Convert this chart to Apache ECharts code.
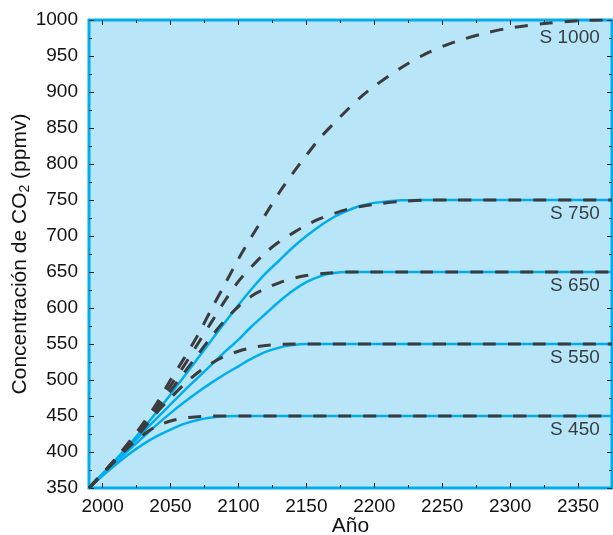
<!DOCTYPE html>
<html>
<head>
<meta charset="utf-8">
<script src="https://cdn.jsdelivr.net/npm/echarts@6/dist/echarts.min.js"></script>
<style>
html, body { margin: 0; padding: 0; background: #ffffff; }
#chart { width: 613px; height: 535px; }
</style>
</head>
<body>
<div id="chart"></div>
<script>
// Years at which each concentration profile is sampled
const years = [1990, 2000, 2010, 2020, 2030, 2040, 2050, 2060, 2070, 2080, 2090, 2100, 2110, 2120, 2130, 2140, 2150, 2160, 2170, 2180, 2190, 2200, 2220, 2240, 2260, 2280, 2300, 2325, 2350, 2375];

// Stabilisation profiles "S" (solid lines), ppmv
const s450 = [350, 367, 383, 398, 411, 422, 431, 439, 444.5, 448, 449.7, 450, 450, 450, 450, 450, 450, 450, 450, 450, 450, 450, 450, 450, 450, 450, 450, 450, 450, 450];
const s550 = [350, 368, 386, 404, 421, 438, 454, 469, 483, 496, 508, 519, 530, 539, 545, 548.5, 550, 550, 550, 550, 550, 550, 550, 550, 550, 550, 550, 550, 550, 550];
const s650 = [350, 369, 388, 408, 428, 447, 466, 485, 503, 521, 539, 556, 575, 592, 609, 624, 636, 644, 648.5, 650, 650, 650, 650, 650, 650, 650, 650, 650, 650, 650];
const s750 = [350, 370, 390, 411, 433, 456, 480, 505, 530, 555, 580, 604, 627, 648, 666, 684, 700, 714, 726, 735, 742, 746, 749.5, 750, 750, 750, 750, 750, 750, 750];

// Delayed-departure profiles (dashed lines), ppmv
const d450 = [350, 370, 389, 408, 424, 436, 443, 447, 449, 450, 450, 450, 450, 450, 450, 450, 450, 450, 450, 450, 450, 450, 450, 450, 450, 450, 450, 450, 450, 450];
const d550 = [350, 370, 390, 411, 432, 455, 475, 494, 510, 523, 533, 540, 545, 548, 549.5, 550, 550, 550, 550, 550, 550, 550, 550, 550, 550, 550, 550, 550, 550, 550];
const d650 = [350, 370, 391, 413, 436, 460, 485, 510, 535, 560, 583, 602, 617, 627, 635, 641, 645, 647.5, 649, 650, 650, 650, 650, 650, 650, 650, 650, 650, 650, 650];
const d750 = [350, 370, 391, 414, 438, 464, 492, 520, 550, 580, 610, 637, 658, 677, 692, 704, 715, 724, 731, 737, 741, 744, 748, 750, 750, 750, 750, 750, 750, 750];
const d1000 = [350, 370, 392, 415, 440, 468, 500, 530, 562, 598, 633, 668, 700, 730, 760, 787, 812, 836, 856, 875, 893, 908, 934, 955, 970, 981, 989, 995, 999, 1000];

// Curve labels and the level each one names
const labelNames = ['S 1000', 'S 750', 'S 650', 'S 550', 'S 450'];
const labelLevels = [1000, 750, 650, 550, 450];
const labelYear = 2366;

// Axis ticks
const majorYears = [2000, 2050, 2100, 2150, 2200, 2250, 2300, 2350];
const minorYears = [2025, 2075, 2125, 2175, 2225, 2275, 2325];

const FONT = 'Liberation Sans';
const TEXT = '#111111';
const BLUE = '#00aeef';
const DASH = '#3c3c3c';

const pairs = (vals) => years.map((y, i) => [y, vals[i]]);
const plain = (v) => String(v);

function xAxisDef(pos, ticks, len, labels) {
  return {
    type: 'value', position: pos, min: 1990, max: 2375,
    axisLine: { show: false },
    splitLine: { show: false },
    axisTick: { show: true, inside: true, length: len, customValues: ticks, lineStyle: { color: '#222', width: 1 } },
    axisLabel: labels
      ? { show: true, customValues: ticks, margin: 9, color: TEXT, fontFamily: FONT, fontSize: 19, formatter: plain }
      : { show: false, customValues: ticks }
  };
}

const solid = (name, vals) => ({
  name, type: 'line', data: pairs(vals), xAxisIndex: 0, yAxisIndex: 0,
  showSymbol: false, smooth: 0.3,
  lineStyle: { color: BLUE, width: 2.5, join: 'round' }, z: 2
});
const dashed = (name, vals) => ({
  name, type: 'line', data: pairs(vals), xAxisIndex: 0, yAxisIndex: 0,
  showSymbol: false, smooth: 0.3,
  lineStyle: { color: DASH, width: 3, type: [13, 12], join: 'round' }, z: 3
});

const option = {
  animation: false,
  grid: {
    left: 89, right: 1, top: 20, bottom: 47,
    containLabel: false, outerBoundsMode: 'none',
    show: true, backgroundColor: '#b9e5f9', borderColor: BLUE, borderWidth: 3
  },
  xAxis: [
    Object.assign(xAxisDef('bottom', majorYears, 5, true), {
      name: 'Año', nameLocation: 'middle', nameGap: 28, nameMoveOverlap: false,
      nameTextStyle: { color: TEXT, fontFamily: FONT, fontSize: 21 }
    }),
    xAxisDef('bottom', minorYears, 3, false),
    xAxisDef('top', majorYears, 5, false),
    xAxisDef('top', minorYears, 3, false)
  ],
  yAxis: [
    {
      type: 'value', position: 'left', min: 350, max: 1000, interval: 50,
      axisLine: { show: false }, splitLine: { show: false },
      axisTick: { show: true, inside: true, length: 5, lineStyle: { color: '#222', width: 1 } },
      minorTick: { show: true, splitNumber: 2, length: 3, lineStyle: { color: '#222', width: 1 } },
      axisLabel: { margin: 11, color: TEXT, fontFamily: FONT, fontSize: 19, formatter: plain },
      name: 'Concentración de CO{sub|2} (ppmv)', nameLocation: 'middle', nameGap: 57, nameMoveOverlap: false,
      nameTextStyle: {
        color: TEXT, fontFamily: FONT, fontSize: 21,
        rich: { sub: { fontFamily: FONT, fontSize: 14, color: TEXT, verticalAlign: 'bottom', padding: [9, 0, 0, 0] } }
      }
    },
    {
      type: 'value', position: 'right', min: 350, max: 1000, interval: 50,
      axisLine: { show: false }, splitLine: { show: false },
      axisTick: { show: true, inside: true, length: 5, lineStyle: { color: '#222', width: 1 } },
      minorTick: { show: true, splitNumber: 2, length: 3, lineStyle: { color: '#222', width: 1 } },
      axisLabel: { show: false }
    }
  ],
  series: [
    solid('S450', s450), solid('S550', s550), solid('S650', s650), solid('S750', s750),
    dashed('D450', d450), dashed('D550', d550), dashed('D650', d650), dashed('D750', d750), dashed('D1000', d1000),
    {
      name: 'labels', type: 'scatter', xAxisIndex: 0, yAxisIndex: 0, symbolSize: 0, z: 4,
      data: labelNames.map((n, i) => ({ name: n, value: [labelYear, labelLevels[i]] })),
      label: {
        show: true, position: 'inside', align: 'right', verticalAlign: 'middle',
        formatter: (p) => p.name, color: TEXT, fontFamily: FONT, fontSize: 19
      },
      labelLayout: (p) => ({ dy: labelLevels[p.dataIndex] >= 1000 ? 18 : 14 })
    }
  ]
};

const chart = echarts.init(document.getElementById('chart'), null, { renderer: 'canvas' });
chart.setOption(option);
</script>
</body>
</html>
